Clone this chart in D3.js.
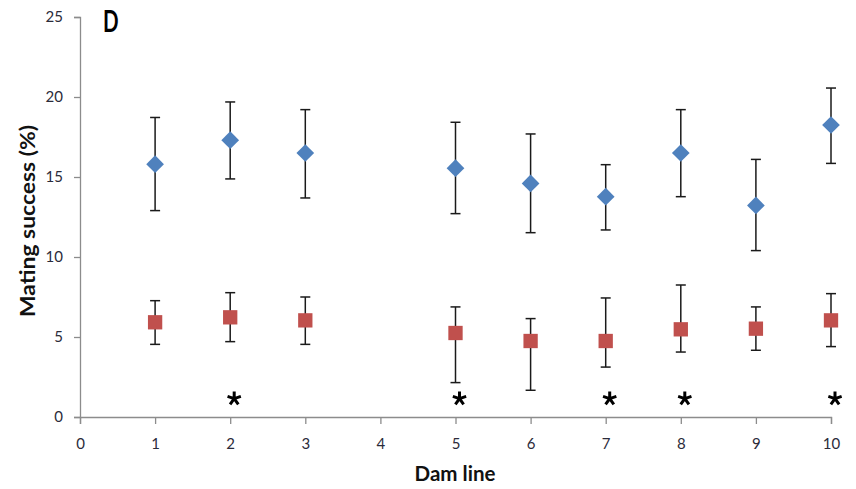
<!DOCTYPE html>
<html>
<head>
<meta charset="utf-8">
<script src="https://cdn.jsdelivr.net/npm/d3@7"></script>
<style>
  html, body { margin: 0; padding: 0; background: #ffffff; }
  svg { display: block; }
  text { font-family: Lato, "Liberation Sans", sans-serif; }
</style>
</head>
<body>
<svg id="chart" width="856" height="489"></svg>
<script>
// Dam lines (line 4 has no data)
const damLines = [1, 2, 3, 5, 6, 7, 8, 9, 10];

// Series 1 (blue diamonds): mean and error-bar limits
const blueMean  = [15.8, 17.3, 16.5, 15.55, 14.6, 13.77, 16.5, 13.22, 18.25];
const blueUpper = [18.72, 19.69, 19.21, 18.42, 17.69, 15.77, 19.21, 16.1, 20.56];
const blueLower = [12.9, 14.88, 13.69, 12.71, 11.52, 11.69, 13.77, 10.4, 15.85];

// Series 2 (red squares): mean and error-bar limits
const redMean  = [5.92, 6.23, 6.04, 5.25, 4.75, 4.75, 5.48, 5.52, 6.04];
const redUpper = [7.27, 7.77, 7.5, 6.88, 6.15, 7.44, 8.25, 6.88, 7.71];
const redLower = [4.54, 4.71, 4.54, 2.15, 1.67, 3.12, 4.06, 4.17, 4.4];

// Dam lines marked as significant
const significantLines = [2, 5, 7, 8, 10];
const markerLevel = 1.15;

const xTicks = [0, 1, 2, 3, 4, 5, 6, 7, 8, 9, 10];
const yTicks = [0, 5, 10, 15, 20, 25];

const svg = d3.select("#chart");

const x = d3.scaleLinear().domain([0, 10]).range([80, 831]);
const y = d3.scaleLinear().domain([0, 25]).range([417, 17]);

const axisColor = "#8c8c8c";
const labelColor = "#2b2b3a";

// Y axis
const yAxis = svg.append("g")
  .attr("transform", `translate(${x(0)},0)`)
  .call(d3.axisLeft(y).tickValues(yTicks).tickSize(6).tickPadding(11).tickFormat(d3.format("d")));
// X axis
const xAxis = svg.append("g")
  .attr("transform", `translate(0,${y(0)})`)
  .call(d3.axisBottom(x).tickValues(xTicks).tickSize(7).tickPadding(14).tickFormat(d3.format("d")));

[yAxis, xAxis].forEach(g => {
  g.select(".domain").attr("stroke", axisColor).attr("stroke-width", 1.3);
  g.selectAll(".tick line").attr("stroke", axisColor).attr("stroke-width", 1.3);
  g.selectAll(".tick text")
    .attr("fill", labelColor)
    .style("font-family", "Lato, sans-serif")
    .style("font-size", "15px");
});

// Axis titles
svg.append("text")
  .attr("transform", `translate(35,${221}) rotate(-90)`)
  .attr("text-anchor", "middle")
  .attr("textLength", 192)
  .attr("lengthAdjust", "spacingAndGlyphs")
  .style("font-size", "21px")
  .style("font-weight", "bold")
  .attr("fill", "#111")
  .text("Mating success (%)");

svg.append("text")
  .attr("x", 455)
  .attr("y", 481)
  .attr("text-anchor", "middle")
  .attr("textLength", 81)
  .attr("lengthAdjust", "spacingAndGlyphs")
  .style("font-size", "20px")
  .style("font-weight", "bold")
  .attr("fill", "#111")
  .text("Dam line");

// Panel letter
svg.append("text")
  .attr("transform", "translate(103,32) scale(0.66,1)")
  .style("font-size", "31px")
  .style("font-weight", "bold")
  .attr("fill", "#000")
  .text("D");

function drawSeries(mean, upper, lower, symbolType, color, size) {
  const g = svg.append("g");
  const rows = damLines.map((d, i) => ({ line: d, m: mean[i], hi: upper[i], lo: lower[i] }));
  const cap = 5;

  g.selectAll("line.err").data(rows).join("line")
    .attr("class", "err")
    .attr("x1", d => x(d.line)).attr("x2", d => x(d.line))
    .attr("y1", d => y(d.hi)).attr("y2", d => y(d.lo))
    .attr("stroke", "#1a1a1a").attr("stroke-width", 1.5);
  g.selectAll("line.capHi").data(rows).join("line")
    .attr("class", "capHi")
    .attr("x1", d => x(d.line) - cap).attr("x2", d => x(d.line) + cap)
    .attr("y1", d => y(d.hi)).attr("y2", d => y(d.hi))
    .attr("stroke", "#1a1a1a").attr("stroke-width", 1.5);
  g.selectAll("line.capLo").data(rows).join("line")
    .attr("class", "capLo")
    .attr("x1", d => x(d.line) - cap).attr("x2", d => x(d.line) + cap)
    .attr("y1", d => y(d.lo)).attr("y2", d => y(d.lo))
    .attr("stroke", "#1a1a1a").attr("stroke-width", 1.5);

  g.selectAll("path.mark").data(rows).join("path")
    .attr("class", "mark")
    .attr("transform", d => `translate(${x(d.line)},${y(d.m)})`)
    .attr("d", d3.symbol().type(symbolType).size(size))
    .attr("fill", color);
}

drawSeries(blueMean, blueUpper, blueLower, d3.symbolDiamond2, "#4f81bd", 200);
drawSeries(redMean, redUpper, redLower, d3.symbolSquare, "#c0504d", 205);

// Significance asterisks: five-armed star drawn as strokes
function asteriskPath(r) {
  const p = d3.path();
  for (let k = 0; k < 5; k++) {
    const a = -Math.PI / 2 + k * 2 * Math.PI / 5;
    p.moveTo(0, 0);
    p.lineTo(r * Math.cos(a), r * Math.sin(a));
  }
  return p.toString();
}
svg.append("g").selectAll("path").data(significantLines).join("path")
  .attr("transform", d => `translate(${x(d) + 4},${y(markerLevel)})`)
  .attr("d", asteriskPath(7))
  .attr("fill", "none")
  .attr("stroke", "#000")
  .attr("stroke-width", 3);
</script>
</body>
</html>
